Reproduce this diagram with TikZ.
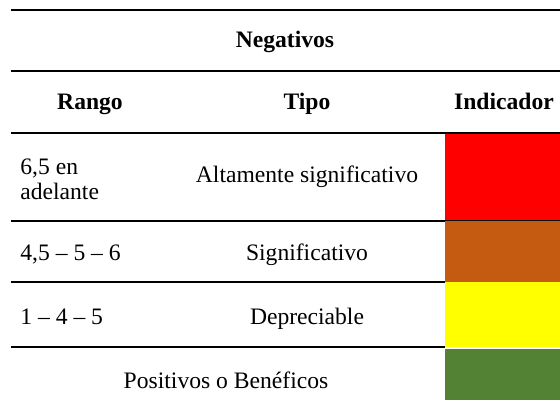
\documentclass[tikz,border=0pt]{standalone}
\usepackage{fontspec}
\setmainfont{Liberation Serif}
\usetikzlibrary{positioning}
\definecolor{indRed}{RGB}{255,0,0}
\definecolor{indOrange}{RGB}{197,90,17}
\definecolor{indYellow}{RGB}{255,255,0}
\definecolor{indGreen}{RGB}{84,130,53}

\begin{document}
\begin{tikzpicture}[
      x=0.5pt, y=-0.5pt,
      cell/.style={inner sep=0pt, anchor=base, font=\fontsize{11.8}{12.5}\selectfont},
      head/.style={cell, font=\fontsize{11.8}{12.5}\selectfont\bfseries},
      rule/.style={line width=1.3pt, black},
      thinrule/.style={line width=0.5pt, black},
      indicator/.style={draw=none}
    ]
      \useasboundingbox (0,0) rectangle (560,400);

      % colour boxes
      \fill[indRed] (445,133) rectangle (560,221);
      \fill[indOrange] (445,221) rectangle (560,282);
      \fill[indYellow] (445,282) rectangle (560,347);
      \fill[indGreen] (445,349) rectangle (560,400);

      % headers
      \node[head] (neg) at (285,48) {Negativos};
      \node[head] (rango) at (90,110) {Rango};
      \node[head] (tipo) at (307,110) {Tipo};
      \node[head] (indic) at (504,110) {Indicador};

      % rows
      \node[cell, anchor=west, align=left] (r1) at (20,179) {6,5 en\\adelante};
      \node[cell] (t1) at (307,183) {Altamente significativo};
      \node[cell, anchor=base west] (r2) at (20,260) {4,5 -- 5 -- 6};
      \node[cell] (t2) at (307,260) {Significativo};
      \node[cell, anchor=base west] (r3) at (20,324) {1 -- 4 -- 5};
      \node[cell] (t3) at (307,324) {Depreciable};
      \node[cell] (t4) at (226,388) {Positivos o Benéficos};

      % rules
      \draw[rule] (11,10) -- (560,10);
      \draw[rule] (11,71) -- (560,71);
      \draw[rule] (11,133) -- (560,133);
      \draw[rule] (11,221) -- (445,221);
      \draw[thinrule] (445,221) -- (560,221);
      \draw[rule] (11,282) -- (445,282);
      \draw[rule] (11,347) -- (445,347);
    \end{tikzpicture}
\end{document}
